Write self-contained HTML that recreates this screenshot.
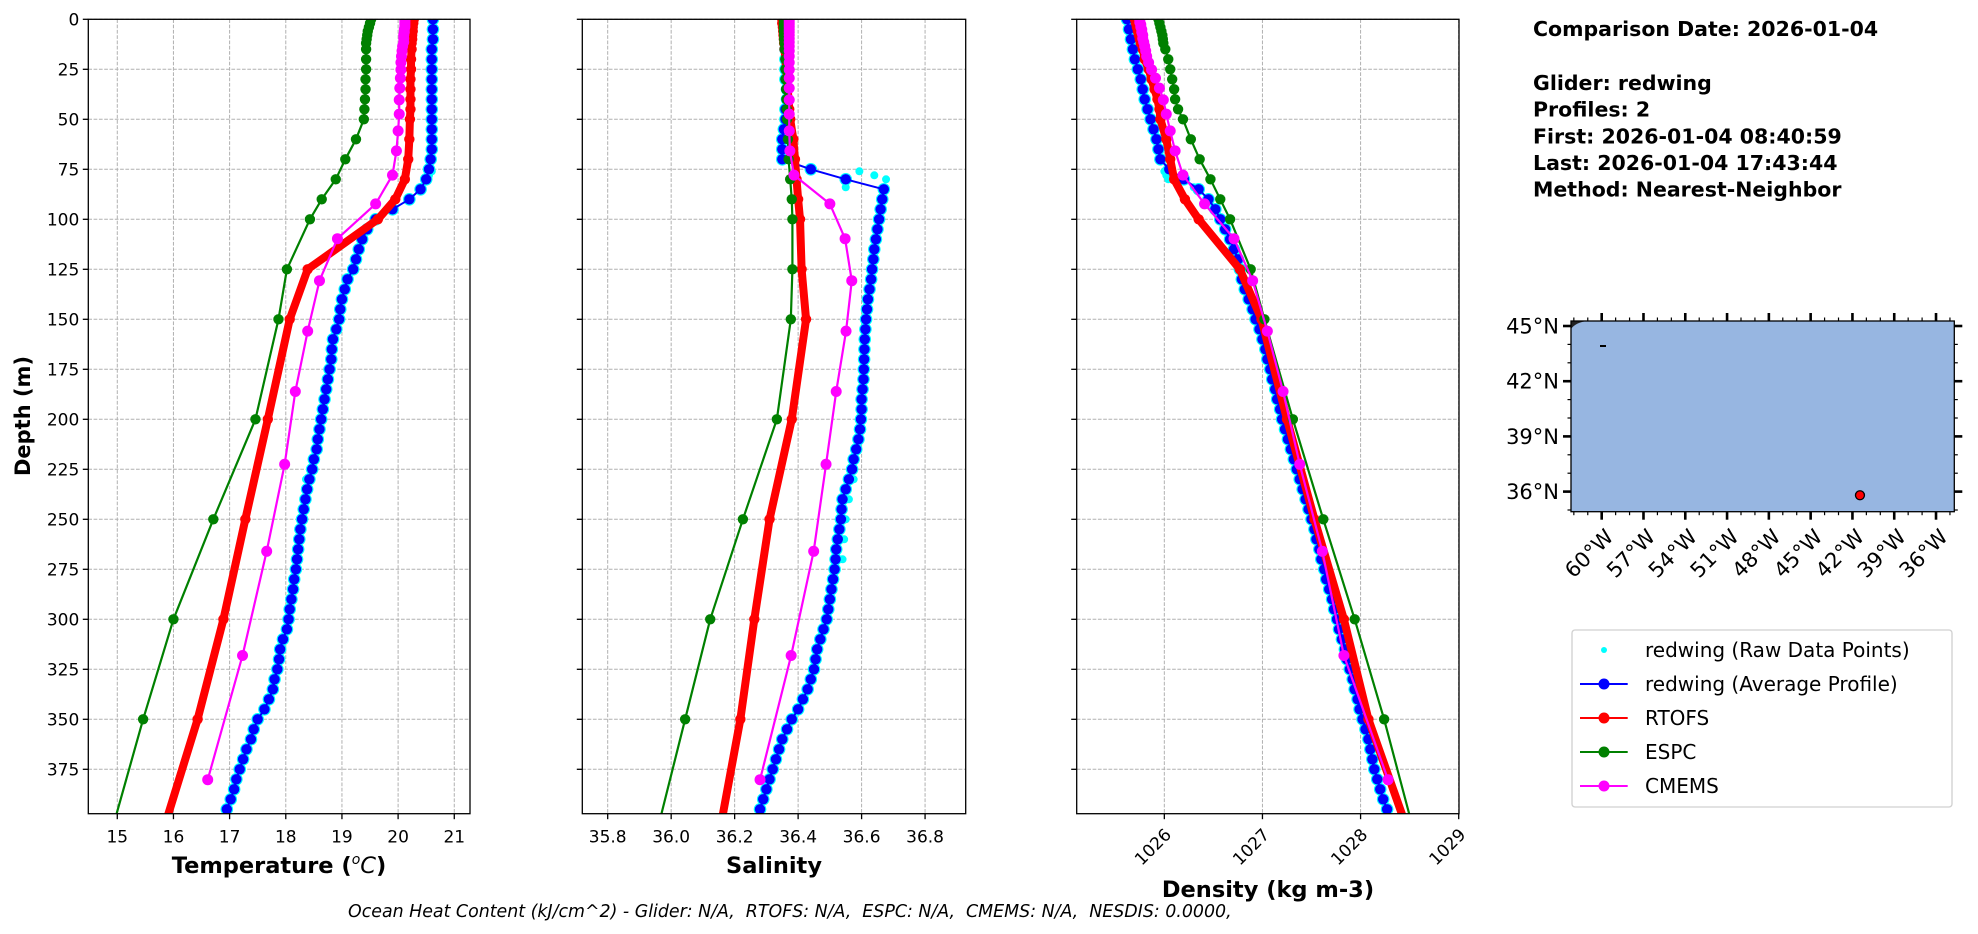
<!DOCTYPE html>
<html><head><meta charset="utf-8"><title>Glider vs Models Profile Comparison</title>
<style>
html,body{margin:0;padding:0;background:#fff;}
svg{display:block;font-family:"DejaVu Sans","Liberation Sans",sans-serif;}
</style></head>
<body>
<svg id="fig" width="1978" height="934" viewBox="0 0 1978 934" xmlns="http://www.w3.org/2000/svg">
<defs>
<clipPath id="clipT"><rect x="88.3" y="19.3" width="381.7" height="794.4"/></clipPath>
<clipPath id="clipS"><rect x="582.3" y="19.3" width="383.4" height="794.4"/></clipPath>
<clipPath id="clipD"><rect x="1076.7" y="19.3" width="382.3" height="794.4"/></clipPath>
</defs>
<g id="panels"></g>
<text x="30" y="416" transform="rotate(-90 30 416)" text-anchor="middle" font-size="21" font-weight="bold">Depth (m)</text>
<text x="279" y="873" text-anchor="middle" font-size="22.5" font-weight="bold">Temperature (<tspan font-style="italic" font-weight="normal" font-size="14" dy="-9">o</tspan><tspan font-style="italic" font-weight="normal" dy="9">C</tspan>)</text>
<text x="774" y="873" text-anchor="middle" font-size="22.5" font-weight="bold">Salinity</text>
<text x="1268" y="897" text-anchor="middle" font-size="22.5" font-weight="bold">Density (kg m-3)</text>
<text x="348" y="917" font-size="17.4" font-style="italic" xml:space="preserve">Ocean Heat Content (kJ/cm^2) - Glider: N/A,  RTOFS: N/A,  ESPC: N/A,  CMEMS: N/A,  NESDIS: 0.0000,</text>
<g font-size="20.5" font-weight="bold">
<text x="1533" y="36">Comparison Date: 2026-01-04</text>
<text x="1533" y="90">Glider: redwing</text>
<text x="1533" y="116.7">Profiles: 2</text>
<text x="1533" y="143.3">First: 2026-01-04 08:40:59</text>
<text x="1533" y="170">Last: 2026-01-04 17:43:44</text>
<text x="1533" y="196.5">Method: Nearest-Neighbor</text>
</g>
<g id="map"></g>
<g id="legend"></g>
</svg>
<script>
// ---- data ----
const gliderDepth = [0,5,10,15,20,25,30,35,40,45,50,55,60,65,70,75,80,85,90,95,100,105,110,115,120,125,130,135,140,145,150,155,160,165,170,175,180,185,190,195,200,205,210,215,220,225,230,235,240,245,250,255,260,265,270,275,280,285,290,295,300,305,310,315,320,325,330,335,340,345,350,355,360,365,370,375,380,385,390,395];
const gliderTemp = [20.62,20.62,20.62,20.6,20.6,20.6,20.6,20.6,20.6,20.6,20.6,20.6,20.6,20.6,20.58,20.55,20.5,20.4,20.2,19.9,19.6,19.45,19.36,19.3,19.25,19.2,19.1,19.05,19.0,18.97,18.95,18.9,18.84,18.82,18.81,18.78,18.75,18.72,18.69,18.66,18.63,18.6,18.57,18.55,18.5,18.47,18.42,18.38,18.35,18.32,18.29,18.26,18.24,18.22,18.2,18.18,18.15,18.13,18.1,18.07,18.05,18.02,17.95,17.9,17.88,17.85,17.8,17.77,17.7,17.62,17.5,17.43,17.38,17.3,17.24,17.18,17.12,17.08,17.02,16.95];
const gliderSal = [36.36,36.36,36.36,36.36,36.36,36.36,36.36,36.365,36.365,36.36,36.36,36.355,36.35,36.35,36.35,36.44,36.55,36.67,36.665,36.66,36.655,36.65,36.645,36.64,36.637,36.633,36.63,36.625,36.62,36.617,36.614,36.612,36.61,36.609,36.608,36.607,36.606,36.603,36.6,36.6,36.598,36.595,36.59,36.583,36.575,36.57,36.56,36.55,36.54,36.537,36.535,36.53,36.525,36.52,36.518,36.515,36.51,36.505,36.5,36.495,36.49,36.48,36.47,36.46,36.455,36.45,36.44,36.43,36.415,36.4,36.38,36.365,36.35,36.34,36.33,36.32,36.31,36.3,36.29,36.28];
const gliderDen = [1025.62,1025.64,1025.66,1025.68,1025.7,1025.73,1025.76,1025.78,1025.8,1025.83,1025.86,1025.89,1025.92,1025.94,1025.96,1026.05,1026.2,1026.35,1026.45,1026.52,1026.57,1026.62,1026.67,1026.71,1026.75,1026.77,1026.79,1026.82,1026.86,1026.9,1026.93,1026.97,1027.0,1027.03,1027.05,1027.08,1027.1,1027.13,1027.15,1027.18,1027.2,1027.23,1027.26,1027.29,1027.32,1027.35,1027.38,1027.41,1027.44,1027.47,1027.5,1027.53,1027.55,1027.58,1027.6,1027.63,1027.65,1027.68,1027.71,1027.73,1027.76,1027.78,1027.81,1027.84,1027.86,1027.89,1027.92,1027.94,1027.97,1027.99,1028.02,1028.05,1028.08,1028.1,1028.12,1028.14,1028.17,1028.2,1028.23,1028.27];
// raw points that stray from the average profile
const rawDepth = [76,78,80,84,230,240,250,260,270];
const rawTemp = [20.6,20.55,20.5,20.42,18.36,18.33,18.3,18.26,18.22];
const rawSal = [36.593,36.64,36.677,36.55,36.575,36.56,36.55,36.545,36.54];
const rawDen = [1026.0,1026.02,1026.04,1026.3,1027.36,1027.42,1027.48,1027.54,1027.58];

const modelDepth = [0,2,4,6,8,10,12,15,20,25,30,35,40,45,50,60,70,80,90,100,125,150,200,250,300,350,400];
const rtofsTemp = [20.28,20.27,20.26,20.26,20.25,20.25,20.24,20.24,20.23,20.23,20.22,20.22,20.22,20.22,20.21,20.2,20.18,20.12,19.95,19.64,18.39,18.07,17.68,17.28,16.89,16.43,15.88];
const rtofsSal = [36.35,36.35,36.352,36.353,36.354,36.355,36.356,36.357,36.36,36.362,36.365,36.367,36.37,36.372,36.375,36.385,36.39,36.395,36.4,36.406,36.411,36.425,36.38,36.31,36.262,36.218,36.16];
const rtofsDen = [1025.7,1025.71,1025.72,1025.73,1025.74,1025.75,1025.76,1025.78,1025.8,1025.84,1025.87,1025.9,1025.93,1025.95,1025.96,1026.02,1026.06,1026.1,1026.21,1026.35,1026.77,1026.99,1027.25,1027.53,1027.83,1028.08,1028.44];
const espcTemp = [19.52,19.5,19.48,19.46,19.45,19.44,19.43,19.43,19.43,19.43,19.42,19.42,19.41,19.4,19.39,19.25,19.06,18.89,18.64,18.43,18.02,17.87,17.46,16.71,16.0,15.46,14.96];
const espcSal = [36.355,36.355,36.355,36.355,36.356,36.356,36.357,36.358,36.36,36.36,36.36,36.362,36.363,36.364,36.365,36.368,36.37,36.375,36.38,36.382,36.382,36.377,36.333,36.226,36.123,36.044,35.965];
const espcDen = [1025.94,1025.95,1025.96,1025.97,1025.98,1025.985,1025.99,1026.01,1026.04,1026.06,1026.08,1026.1,1026.11,1026.14,1026.19,1026.27,1026.36,1026.47,1026.57,1026.67,1026.88,1027.02,1027.31,1027.62,1027.94,1028.24,1028.51];

const cmemsDepth = [0.5,1.5,2.6,3.8,5.1,6.4,7.9,9.6,11.4,13.5,15.8,18.5,21.6,25.2,29.4,34.4,40.3,47.4,55.8,65.8,77.9,92.3,109.7,130.7,155.9,186.1,222.5,266.0,318.1,380.2];
const cmemsTemp = [20.12,20.12,20.12,20.12,20.11,20.11,20.1,20.1,20.1,20.08,20.07,20.06,20.05,20.05,20.04,20.03,20.02,20.02,20.0,19.97,19.9,19.6,18.92,18.6,18.39,18.17,17.98,17.66,17.23,16.61];
const cmemsSal = [36.372,36.372,36.372,36.372,36.372,36.372,36.372,36.372,36.372,36.372,36.372,36.372,36.372,36.372,36.372,36.372,36.372,36.372,36.372,36.374,36.387,36.5,36.548,36.569,36.551,36.52,36.488,36.449,36.378,36.28];
const cmemsDen = [1025.75,1025.75,1025.76,1025.76,1025.77,1025.77,1025.78,1025.78,1025.79,1025.8,1025.81,1025.82,1025.84,1025.87,1025.91,1025.95,1025.99,1026.02,1026.06,1026.11,1026.19,1026.41,1026.71,1026.9,1027.05,1027.21,1027.38,1027.61,1027.83,1028.28];

const depthTicks = [0,25,50,75,100,125,150,175,200,225,250,275,300,325,350,375];
const tempTicks = [15,16,17,18,19,20,21];
const salTicks = ["35.8","36.0","36.2","36.4","36.6","36.8"];
const denTicks = [1026,1027,1028,1029];
const latTicks = [45,42,39,36];
const lonTicks = [-60,-57,-54,-51,-48,-45,-42,-39,-36];
const gliderLon = [-41.46];
const gliderLat = [35.8];

// ---- scales ----
const NS = "http://www.w3.org/2000/svg";
const Y0 = 19.3, Y1 = 813.7, DMAX = 397.2;
function yScale(d){ return Y0 + (d / DMAX) * (Y1 - Y0); }
function mk(tag, attrs, parent){ const e = document.createElementNS(NS, tag); for (const k in attrs) e.setAttribute(k, attrs[k]); parent.appendChild(e); return e; }

const panels = [
  {key:'temp', x0:88.3, x1:470, vmin:14.484, vmax:21.28, ticks:tempTicks, clip:'clipT', rot:false, showY:true},
  {key:'sal', x0:582.3, x1:965.7, vmin:35.72, vmax:36.928, ticks:salTicks, clip:'clipS', rot:false, showY:false},
  {key:'den', x0:1076.7, x1:1459, vmin:1025.107, vmax:1029.003, ticks:denTicks, clip:'clipD', rot:true, showY:false}
];
const root = document.getElementById('panels');

panels.forEach(p => {
  const xs = v => p.x0 + (v - p.vmin) / (p.vmax - p.vmin) * (p.x1 - p.x0);
  const g = mk('g', {}, root);
  
  
  depthTicks.forEach(d => {
    const l = mk('line', {x1:p.x0, x2:p.x1, y1:yScale(d), y2:yScale(d), stroke:'#b0b0b0', 'stroke-width':1, 'stroke-dasharray':'3.7,1.6'}, g);
    
    
    const t = mk('line', {x1:p.x0-5.5, x2:p.x0, y1:yScale(d), y2:yScale(d), stroke:'#000', 'stroke-width':1.3}, g);
    
    
    if (p.showY) {
      const tx = mk('text', {x:p.x0-9, y:yScale(d)+6, 'text-anchor':'end', 'font-size':17}, g);
      tx.textContent = d;
      
      
    }
  });
  p.ticks.forEach(tv => {
    const x = xs(parseFloat(tv));
    const l = mk('line', {x1:x, x2:x, y1:Y0, y2:Y1, stroke:'#b0b0b0', 'stroke-width':1, 'stroke-dasharray':'3.7,1.6'}, g);
    
    
    const t = mk('line', {x1:x, x2:x, y1:Y1, y2:Y1+5.5, stroke:'#000', 'stroke-width':1.3}, g);
    
    
    let tx;
    if (p.rot) {
      tx = mk('text', {x:x+8, y:Y1+22, 'text-anchor':'end', 'font-size':17, transform:'rotate(-45 '+(x+8)+' '+(Y1+22)+')'}, g);
    } else {
      tx = mk('text', {x:x, y:Y1+29, 'text-anchor':'middle', 'font-size':17}, g);
    }
    tx.textContent = tv;
    
    
  });
  const cg = mk('g', {'clip-path':'url(#'+p.clip+')'}, g);
  function series(depths, vals, color, lw, r, name, noLine){
    const sg = mk('g', {}, cg);
    
    
    if (!noLine) {
      const pts = depths.map((d,i) => xs(vals[i]).toFixed(2)+','+yScale(d).toFixed(2)).join(' ');
      const pl = mk('polyline', {points:pts, fill:'none', stroke:color, 'stroke-width':lw, 'stroke-linejoin':'round'}, sg);
      
      
    }
    depths.forEach((d,i) => {
      const c = mk('circle', {cx:xs(vals[i]), cy:yScale(d), r:r, fill:color}, sg);
      
      
    });
  }
  const pick = {temp:[gliderTemp,rawTemp,rtofsTemp,espcTemp,cmemsTemp], sal:[gliderSal,rawSal,rtofsSal,espcSal,cmemsSal], den:[gliderDen,rawDen,rtofsDen,espcDen,cmemsDen]}[p.key];
  series(gliderDepth, pick[0], '#00ffff', 0, 6.3, 'raw-points-halo', true);
  series(rawDepth, pick[1], '#00ffff', 0, 4, 'raw-data-points', true);
  series(gliderDepth, pick[0], '#0000ff', 2, 5.2, 'glider-average-profile');
  series(modelDepth, pick[2], '#ff0000', 8, 5.2, 'rtofs-profile');
  series(modelDepth, pick[3], '#008000', 2.2, 5.2, 'espc-profile');
  series(cmemsDepth, pick[4], '#ff00ff', 2.2, 5.5, 'cmems-profile');
  const fr = mk('rect', {x:p.x0, y:Y0, width:p.x1-p.x0, height:Y1-Y0, fill:'none', stroke:'#000', 'stroke-width':1.3}, g);
  
  
});

// ---- map ----
const map = document.getElementById('map');
const MX0 = 1571, MX1 = 1954.3, MY0 = 321, MY1 = 511.7;
const lonX = lon => 1601.7 + (lon + 60) * 13.93;
const latY = lat => 326 + (45 - lat) * 18.4;
const ocean = mk('rect', {x:MX0, y:MY0, width:MX1-MX0, height:MY1-MY0, fill:'#97b6e1'}, map);


const coast = mk('path', {d:'M1571,329 Q1576,322 1588,321 L1571,321 Z', fill:'#222'}, map);


const isl = mk('path', {d:'M1600,346 L1606,346', stroke:'#000', 'stroke-width':2}, map);


for (let lon = -62; lon <= -35; lon++) {
  const x = lonX(lon);
  const major = lonTicks.indexOf(lon) >= 0;
  const len = major ? 8 : 3.5, w = major ? 2.6 : 1.2;
  const tb = mk('line', {x1:x, x2:x, y1:MY1, y2:MY1+len, stroke:'#000', 'stroke-width':w}, map);
  
  
  const tt = mk('line', {x1:x, x2:x, y1:MY0, y2:MY0-len, stroke:'#000', 'stroke-width':w}, map);
  
  
}
for (let lat = 35; lat <= 45; lat++) {
  const y = latY(lat);
  const major = latTicks.indexOf(lat) >= 0;
  const len = major ? 8 : 3.5, w = major ? 2.6 : 1.2;
  const tl = mk('line', {x1:MX0-len, x2:MX0, y1:y, y2:y, stroke:'#000', 'stroke-width':w}, map);
  
  
  const tr = mk('line', {x1:MX1, x2:MX1+len, y1:y, y2:y, stroke:'#000', 'stroke-width':w}, map);
  
  
}
latTicks.forEach(lat => {
  const t = mk('text', {x:1559, y:latY(lat)+7.5, 'text-anchor':'end', 'font-size':21}, map);
  t.textContent = lat + '°N';
  
  
});
lonTicks.forEach(lon => {
  const x = lonX(lon) + 13, y = 538;
  const t = mk('text', {x:x, y:y, 'text-anchor':'end', 'font-size':21, transform:'rotate(-45 '+x+' '+y+')'}, map);
  t.textContent = Math.abs(lon) + '°W';
  
  
});
const mf = mk('rect', {x:MX0, y:MY0, width:MX1-MX0, height:MY1-MY0, fill:'none', stroke:'#000', 'stroke-width':1.3}, map);


gliderLon.forEach((lon,i) => {
  const c = mk('circle', {cx:lonX(lon), cy:latY(gliderLat[i]), r:4.5, fill:'#ff0000', stroke:'#000', 'stroke-width':1.3}, map);
  
  
});

// ---- legend ----
const leg = document.getElementById('legend');
const box = mk('rect', {x:1572, y:630, width:380, height:177, rx:3, fill:'#fff', stroke:'#d0d0d0', 'stroke-width':1.3}, leg);


const entries = [
  ['redwing (Raw Data Points)', '#00ffff', false, 'legend-entry-raw'],
  ['redwing (Average Profile)', '#0000ff', true, 'legend-entry-glider'],
  ['RTOFS', '#ff0000', true, 'legend-entry-rtofs'],
  ['ESPC', '#008000', true, 'legend-entry-espc'],
  ['CMEMS', '#ff00ff', true, 'legend-entry-cmems']
];
entries.forEach((e,i) => {
  const y = 650 + i * 34;
  const g = mk('g', {}, leg);
  
  
  if (e[2]) mk('line', {x1:1580, x2:1627.7, y1:y, y2:y, stroke:e[1], 'stroke-width':2}, g);
  mk('circle', {cx:1604, cy:y, r:e[2] ? 5.5 : 3, fill:e[1]}, g);
  const t = mk('text', {x:1645, y:y+7, 'font-size':20}, g);
  t.textContent = e[0];
});
</script>
</body></html>
